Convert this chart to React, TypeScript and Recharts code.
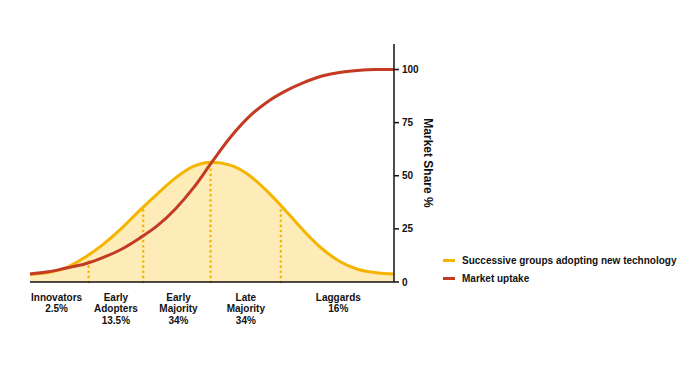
import { ComposedChart, Area, Line, XAxis, YAxis, ReferenceLine } from 'recharts';

// x position along the adoption timeline (0-100)
const xs = [0, 5, 10, 15, 20, 25, 30, 35, 40, 45, 50, 55, 60, 65, 70, 75, 80, 85, 90, 95, 100];
const adoptionGroups = [3.6, 4.5, 6.8, 11.5, 17.6, 25, 33.5, 41.5, 49, 54.5, 56.3, 55, 50.5, 43, 34, 24.5, 16, 9.8, 6, 4.4, 3.8];
const marketUptake = [3.8, 4.8, 6.6, 8.5, 11.5, 15.3, 20.5, 26.5, 34.5, 44.5, 56.5, 68, 77.5, 84.5, 89.7, 93.7, 96.8, 98.6, 99.5, 99.95, 100];

const groupNames = [['Innovators'], ['Early', 'Adopters'], ['Early', 'Majority'], ['Late', 'Majority'], ['Laggards']];
const groupShares = ['2.5%', '13.5%', '34%', '34%', '16%'];
const groupCenters = [7.3, 23.6, 40.8, 59.3, 84.7];

const boundaryX = [16.1, 31.1, 49.6, 68.9];
const boundaryTop = [10.7, 34.3, 53.2, 34.3];

const yTicks = [0, 25, 50, 75, 100];

const YELLOW = '#F5B400';
const FILL = '#FDEBB8';
const RED = '#C23B22';
const FONT = '"Liberation Sans", Arial, sans-serif';

const data = xs.map((x, i) => ({ x, groups: adoptionGroups[i], uptake: marketUptake[i] }));

const GroupTick = (props: any) => {
  const { x, y, payload } = props;
  const i = groupCenters.indexOf(payload.value);
  if (i < 0) return null;
  const lines = [...groupNames[i], groupShares[i]];
  return (
    <text x={x} y={y} textAnchor="middle" fontSize={10} fontWeight="bold" fill="#111" fontFamily={FONT}>
      {lines.map((l, k) => (
        <tspan key={k} x={x} dy={k === 0 ? 16.5 : 11.6}>{l}</tspan>
      ))}
    </text>
  );
};

const AxisTitle = (props: any) => {
  const { viewBox } = props;
  const cx = viewBox.x + 34;
  const cy = viewBox.y + viewBox.height / 2;
  return (
    <text x={cx} y={cy} transform={`rotate(90 ${cx} ${cy})`} textAnchor="middle" dominantBaseline="central"
      fontSize={12} fontWeight="bold" fill="#111" fontFamily={FONT}>
      Market Share %
    </text>
  );
};

const legendItems = [
  { label: 'Successive groups adopting new technology', color: YELLOW },
  { label: 'Market uptake', color: RED },
];

export default function App() {
  return (
    <div style={{ position: 'absolute', left: 0, top: 0, width: 700, height: 367, background: '#fff' }}>
      <ComposedChart width={700} height={367} data={data} margin={{ top: 44, right: 266, left: 30, bottom: 35 }}>
        <XAxis
          dataKey="x"
          type="number"
          domain={[0, 100]}
          ticks={groupCenters}
          interval={0}
          tickLine={false}
          tickSize={0}
          tick={<GroupTick />}
          height={50}
          axisLine={{ stroke: '#111', strokeWidth: 1.5 }}
        />
        <YAxis
          orientation="right"
          domain={[0, 112]}
          ticks={yTicks}
          width={40}
          tickSize={5}
          tickMargin={3}
          tickLine={{ stroke: '#111', strokeWidth: 1.5 }}
          axisLine={{ stroke: '#111', strokeWidth: 1.5 }}
          tick={{ fontSize: 10, fontWeight: 'bold', fill: '#111', fontFamily: FONT }}
          label={<AxisTitle />}
        />
        <Area
          type="monotone"
          dataKey="groups"
          stroke={YELLOW}
          strokeWidth={3}
          fill={FILL}
          fillOpacity={1}
          isAnimationActive={false}
          dot={false}
        />
        {boundaryX.map((bx, i) => (
          <ReferenceLine
            key={bx}
            segment={[{ x: bx, y: 0 }, { x: bx, y: boundaryTop[i] }]}
            stroke={YELLOW}
            strokeWidth={2.5}
            strokeDasharray="0.1 5"
            strokeLinecap="round"
          />
        ))}
        <Line
          type="monotone"
          dataKey="uptake"
          stroke={RED}
          strokeWidth={3}
          dot={false}
          isAnimationActive={false}
        />
      </ComposedChart>
      <div style={{ position: 'absolute', left: 443, top: 251, fontFamily: FONT, fontSize: 10, fontWeight: 'bold', color: '#111' }}>
        {legendItems.map((it) => (
          <div key={it.label} style={{ display: 'flex', alignItems: 'center', height: 18 }}>
            <div style={{ width: 12, height: 3, background: it.color, marginRight: 7 }} />
            <span>{it.label}</span>
          </div>
        ))}
      </div>
    </div>
  );
}
